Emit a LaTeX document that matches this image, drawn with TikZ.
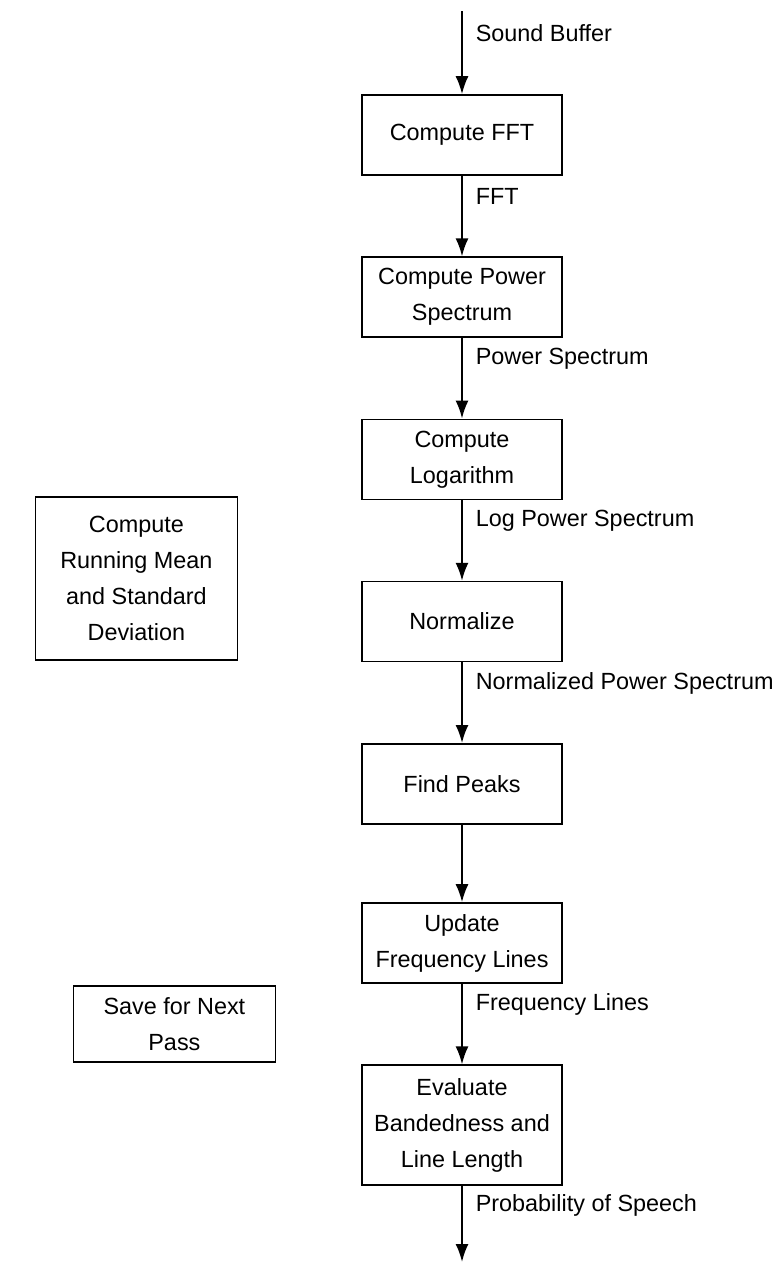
\documentclass[tikz,border=0pt]{standalone}
\usepackage{fontspec}
\setmainfont{Liberation Sans}
\usetikzlibrary{positioning,arrows.meta}

\begin{document}
\begin{tikzpicture}[
      font=\fontsize{11.7pt}{18pt}\selectfont,
      clear/.style={draw=none,fill=none,align=left,anchor=west,inner sep=0pt,minimum width=0pt,minimum height=0pt,xshift=6.5pt,pos=0.26},
      every node/.style={draw, rectangle, line width=0.8pt, align=center, minimum width=100pt, minimum height=40pt, inner sep=3pt},
      every edge/.style={draw, -{Latex[length=9pt,width=6.5pt]}, line width=1.0pt}
   ]
      \useasboundingbox (0,0) rectangle (390pt,-640pt);

      \node at (231pt,-67.5pt) (FFT) {Compute FFT};
      \node[below=40.3pt of FFT] (PWR) {Compute Power\\Spectrum};
      \node[below=40.3pt of PWR] (LOG) {Compute\\Logarithm};
      \node[below=40.3pt of LOG] (NRM) {Normalize};
      \node[below=40.3pt of NRM] (PK) {Find Peaks};
      \node[below=38.8pt of PK] (UFL) {Update\\Frequency Lines};
      \node[below=40.3pt of UFL, minimum height=60pt] (EBL) {Evaluate\\Bandedness and\\Line Length};

      \node[left=61.5pt of NRM, yshift=21.5pt, minimum width=101pt, minimum height=81.5pt] (RMS) {Compute\\Running Mean\\and Standard\\Deviation};
      \node[left=42.5pt of UFL, yshift=-40.5pt, minimum width=101pt, minimum height=38pt] (SNP) {Save for Next\\Pass};

      \coordinate[above=41.5pt of FFT] (IN);
      \coordinate[below=38pt of EBL] (OUT);

      \path (IN) edge node[clear] {Sound Buffer} (FFT);
      \path (FFT) edge node[clear] {FFT} (PWR);
      \path (PWR) edge node[clear] {Power Spectrum} (LOG);
      \path (LOG) edge node[clear] {Log Power Spectrum} (NRM);
      \path (NRM) edge node[clear] {Normalized Power Spectrum} (PK);
      \path (PK) edge (UFL);
      \path (UFL) edge node[clear] {Frequency Lines} (EBL);
      \path (EBL) edge node[clear] {Probability of Speech} (OUT);
   \end{tikzpicture}
\end{document}
